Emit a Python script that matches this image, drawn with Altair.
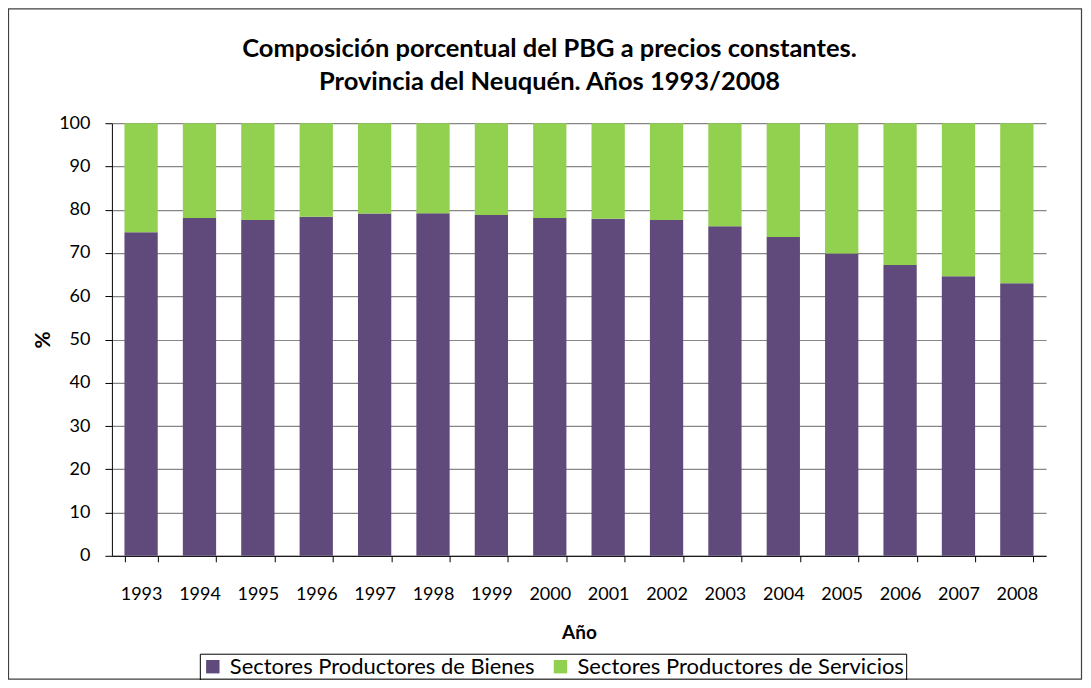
import altair as alt
import pandas as pd

years = ["1993", "1994", "1995", "1996", "1997", "1998", "1999", "2000",
         "2001", "2002", "2003", "2004", "2005", "2006", "2007", "2008"]
bienes = [74.8, 78.1, 77.6, 78.4, 79.1, 79.2, 78.8, 78.1,
          77.9, 77.6, 76.2, 73.7, 69.9, 67.2, 64.6, 63.0]
servicios = [round(100 - b, 1) for b in bienes]
series = ["Sectores Productores de Bienes", "Sectores Productores de Servicios"]
colors = ["#604A7B", "#92D050"]
title_lines = ["Composición porcentual del PBG a precios constantes.",
               "Provincia del Neuquén. Años 1993/2008"]

rows = []
for y, b, s in zip(years, bienes, servicios):
    rows.append({"Año": y, "Sector": series[0], "Valor": b, "orden": 0})
    rows.append({"Año": y, "Sector": series[1], "Valor": s, "orden": 1})
df = pd.DataFrame(rows)

FONT = "Lato"
W, H = 935, 433
FS = 18

bars = alt.Chart(df).mark_bar().encode(
    x=alt.X("Año:N", sort=years,
            scale=alt.Scale(paddingInner=0.43, paddingOuter=0.215),
            axis=alt.Axis(title="Año", labelAngle=0, tickBand="extent",
                          tickSize=6, tickColor="black", domainColor="black",
                          labelPadding=24, titlePadding=20, grid=False,
                          labelFontSize=FS, titleFontSize=FS + 1,
                          titleFontWeight="bold")),
    y=alt.Y("Valor:Q", stack="zero",
            scale=alt.Scale(domain=[0, 100], nice=False),
            axis=alt.Axis(title="%", values=list(range(0, 101, 10)),
                          tickSize=7, tickColor="black", domainColor="black",
                          labelPadding=15, titlePadding=5, gridColor="#868686",
                          gridWidth=1.2, labelFontSize=FS, titleFontSize=21,
                          titleFontWeight="bold")),
    color=alt.Color("Sector:N", sort=series,
                    scale=alt.Scale(domain=series, range=colors),
                    legend=alt.Legend(title=None, orient="none", direction="horizontal",
                                      legendX=88, legendY=531,
                                      symbolType="square", symbolSize=180,
                                      symbolStrokeWidth=0, labelLimit=0,
                                      labelFontSize=22, columnPadding=14,
                                      strokeColor="black", padding=2,
                                      labelOffset=6)),
    order=alt.Order("orden:Q", sort="ascending"),
)

frame = alt.Chart(pd.DataFrame({"a": [0]})).mark_rect(
    fill=None, stroke="#404040", strokeWidth=1.2
).encode(
    x=alt.value(-103.5), x2=alt.value(W + 35.5),
    y=alt.value(-114.5), y2=alt.value(H + 123.5),
)

title_df = pd.DataFrame({"t": title_lines, "line": [0, 1]})
title1 = alt.Chart(title_df).transform_filter("datum.line == 0").mark_text(
    font=FONT, fontSize=25.5, fontWeight="bold", align="center", baseline="alphabetic",
    color="black"
).encode(text="t:N", x=alt.value(438), y=alt.value(-66))
title2 = alt.Chart(title_df).transform_filter("datum.line == 1").mark_text(
    font=FONT, fontSize=25.5, fontWeight="bold", align="center", baseline="alphabetic",
    color="black"
).encode(text="t:N", x=alt.value(438), y=alt.value(-33))

chart = alt.layer(frame, bars, title1, title2).properties(
    width=W, height=H,
    padding={"left": 104, "top": 115, "right": 37, "bottom": 124},
    autosize=alt.AutoSizeParams(type="none"),
).configure(font=FONT).configure_axis(
    labelFont=FONT, titleFont=FONT, labelColor="black", titleColor="black"
).configure_legend(labelFont=FONT, labelColor="black").configure_view(stroke=None)

chart.save("out.html", embed_options={"renderer": "svg", "actions": False})
